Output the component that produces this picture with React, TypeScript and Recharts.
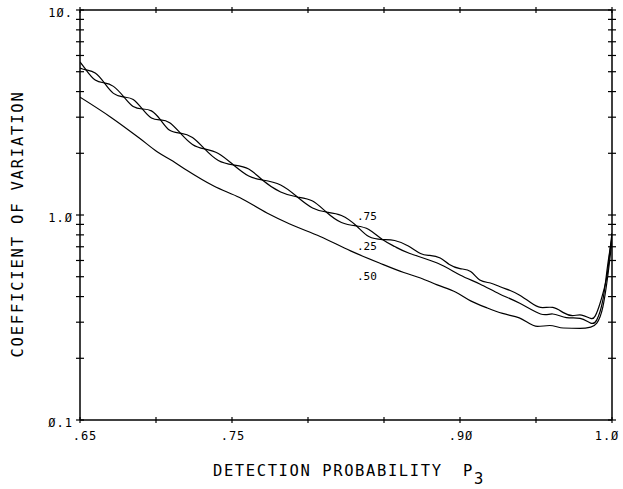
import { LineChart, Line, XAxis, YAxis, Label } from "recharts"

const FONT = "'DejaVu Sans Mono', monospace"

// x: detection probability P3
const X_TICKS = [0.65, 0.7, 0.75, 0.8, 0.85, 0.9, 0.95, 1.0]
const X_TICK_LABELS: Record<string, string> = { "0.65": ".65", "0.75": ".75", "0.9": ".9Ø", "1": "1.Ø" }

// y: coefficient of variation (log)
const Y_TICKS = [0.1, 0.2, 0.3, 0.4, 0.5, 0.6, 0.7, 0.8, 0.9, 1, 2, 3, 4, 5, 6, 7, 8, 9, 10]
const Y_TICK_LABELS: Record<string, string> = { "0.1": "Ø.1", "1": "1.Ø", "10": "1Ø." }

const SERIES_NAMES = [".75", ".25", ".50"]

const P3_75 = [
  0.65, 0.654, 0.66, 0.666, 0.672, 0.679, 0.685, 0.691, 0.697, 0.703, 0.709, 0.716, 0.724,
  0.732, 0.741, 0.751, 0.761, 0.77, 0.782, 0.793, 0.803, 0.812, 0.822, 0.832, 0.84, 0.849,
  0.857, 0.866, 0.874, 0.88, 0.887, 0.893, 0.9, 0.907, 0.913, 0.92, 0.926, 0.933, 0.939,
  0.946, 0.953, 0.961, 0.968, 0.974, 0.98, 0.986, 0.989, 0.992, 0.995, 0.997, 0.9987, 1.0,
]
const CV_75 = [
  5.21, 5.1, 4.93, 4.41, 3.92, 3.76, 3.66, 3.29, 2.97, 2.91, 2.82, 2.51, 2.21,
  2.1, 1.997, 1.754, 1.549, 1.482, 1.401, 1.224, 1.082, 1.034, 0.995, 0.884, 0.785, 0.759,
  0.751, 0.706, 0.649, 0.635, 0.617, 0.574, 0.548, 0.53, 0.482, 0.466, 0.448, 0.428, 0.407,
  0.376, 0.354, 0.354, 0.334, 0.323, 0.325, 0.313, 0.322, 0.368, 0.441, 0.521, 0.675, 0.817,
]

const P3_25 = [
  0.65, 0.654, 0.66, 0.666, 0.672, 0.679, 0.685, 0.691, 0.697, 0.703, 0.709, 0.716, 0.724,
  0.732, 0.741, 0.751, 0.761, 0.77, 0.782, 0.793, 0.803, 0.812, 0.822, 0.832, 0.84, 0.849,
  0.857, 0.867, 0.885, 0.9, 0.913, 0.926, 0.939, 0.953, 0.961, 0.97, 0.979, 0.986, 0.99,
  0.994, 0.997, 1.0,
]
const CV_25 = [
  5.58, 5.1, 4.55, 4.41, 4.24, 3.76, 3.38, 3.29, 3.22, 2.91, 2.59, 2.51, 2.39,
  2.1, 1.844, 1.754, 1.677, 1.482, 1.294, 1.224, 1.171, 1.034, 0.919, 0.884, 0.85, 0.759,
  0.702, 0.649, 0.583, 0.51, 0.461, 0.412, 0.372, 0.329, 0.329, 0.316, 0.313, 0.297, 0.308,
  0.385, 0.558, 0.781,
]

const P3_50 = [
  0.65, 0.67, 0.689, 0.701, 0.711, 0.72, 0.738, 0.755, 0.773, 0.788, 0.808, 0.828, 0.847,
  0.863, 0.874, 0.885, 0.897, 0.907, 0.918, 0.928, 0.939, 0.951, 0.959, 0.968, 0.979, 0.986,
  0.99, 0.994, 0.997, 1.0,
]
const CV_50 = [
  3.76, 3.01, 2.375, 2.03, 1.834, 1.658, 1.385, 1.217, 1.023, 0.904, 0.786, 0.668, 0.583,
  0.524, 0.493, 0.456, 0.421, 0.381, 0.352, 0.331, 0.315, 0.286, 0.289, 0.281, 0.28, 0.284,
  0.297, 0.356, 0.49, 0.755,
]

const zip = (xs: number[], ys: number[]) => xs.map((p, i) => ({ p, cv: ys[i] }))
const data75 = zip(P3_75, CV_75)
const data25 = zip(P3_25, CV_25)
const data50 = zip(P3_50, CV_50)

const axisStyle = { stroke: "#000", strokeWidth: 1.5 }

const LeftTick = (props: any) => {
  const { x, y, payload } = props
  const label = Y_TICK_LABELS[String(payload.value)]
  return (
    <g>
      <line x1={x - 4} x2={x + 4} y1={y} y2={y} stroke="#000" strokeWidth={1.2} />
      {label && (
        <text x={x - 7} y={y + 7} textAnchor="end" fontFamily={FONT} fontSize={12} style={{ letterSpacing: 1 }} fill="#000">
          {label}
        </text>
      )}
    </g>
  )
}

const RightTick = (props: any) => {
  const { x, y } = props
  return <line x1={x - 4} x2={x + 4} y1={y} y2={y} stroke="#000" strokeWidth={1.2} />
}

const BottomTick = (props: any) => {
  const { x, y, payload, index } = props
  const label = X_TICK_LABELS[String(payload.value)]
  const dx = index === 0 ? 5 : payload.value === 1 ? -5 : 1
  return (
    <g>
      <line x1={x} x2={x} y1={y - 3} y2={y + 3} stroke="#000" strokeWidth={1.2} />
      {label && (
        <text x={x + dx} y={y + 20} textAnchor="middle" fontFamily={FONT} fontSize={12} style={{ letterSpacing: 1 }} fill="#000">
          {label}
        </text>
      )}
    </g>
  )
}

const TopTick = (props: any) => {
  const { x, y } = props
  return <line x1={x} x2={x} y1={y - 3} y2={y + 3} stroke="#000" strokeWidth={1.2} />
}

const XTitle = () => (
  <text x={213} y={476} fontFamily={FONT} fontSize={15.5} style={{ letterSpacing: 1.6 }} fill="#000">
    DETECTION PROBABILITY
    <tspan x={463}>P</tspan>
    <tspan dy={8}>3</tspan>
  </text>
)

const YTitle = () => (
  <text
    x={23}
    y={224}
    transform="rotate(-90 23 224)"
    textAnchor="middle"
    fontFamily={FONT}
    fontSize={15.5}
    style={{ letterSpacing: 1.8 }}
    fill="#000"
  >
    COEFFICIENT OF VARIATION
  </text>
)

const SeriesLabels = () => (
  <g fontFamily={FONT} fontSize={11} fill="#000">
    <text x={357} y={220}>{SERIES_NAMES[0]}</text>
    <text x={357} y={250}>{SERIES_NAMES[1]}</text>
    <text x={357} y={280}>{SERIES_NAMES[2]}</text>
  </g>
)

export default function App() {
  return (
    <div style={{ position: "absolute", left: 0, top: 0, width: 623, height: 489, background: "#fff" }}>
      <LineChart width={623} height={489} margin={{ top: 0, right: 0, bottom: 0, left: 0 }}>
        <XAxis
          xAxisId="b"
          type="number"
          dataKey="p"
          domain={[0.65, 1]}
          ticks={X_TICKS}
          allowDataOverflow
          height={69}
          tickSize={0}
          tickMargin={0}
          tickLine={false}
          tick={BottomTick}
          axisLine={axisStyle}
          interval={0}
        >
          <Label content={XTitle} />
        </XAxis>
        <XAxis
          xAxisId="t"
          orientation="top"
          type="number"
          dataKey="p"
          domain={[0.65, 1]}
          ticks={X_TICKS}
          allowDataOverflow
          height={10}
          tickSize={0}
          tickMargin={0}
          tickLine={false}
          tick={TopTick}
          axisLine={axisStyle}
          interval={0}
        />
        <YAxis
          yAxisId="l"
          type="number"
          scale="log"
          domain={[0.1, 10]}
          ticks={Y_TICKS}
          allowDataOverflow
          width={80}
          tickSize={0}
          tickMargin={0}
          tickLine={false}
          tick={LeftTick}
          axisLine={axisStyle}
          interval={0}
        >
          <Label content={YTitle} />
        </YAxis>
        <YAxis
          yAxisId="r"
          orientation="right"
          type="number"
          scale="log"
          domain={[0.1, 10]}
          ticks={Y_TICKS}
          allowDataOverflow
          width={11}
          tickSize={0}
          tickMargin={0}
          tickLine={false}
          tick={RightTick}
          axisLine={axisStyle}
          interval={0}
        >
          <Label content={SeriesLabels} />
        </YAxis>
        <Line xAxisId="b" yAxisId="l" data={data75} dataKey="cv" name={SERIES_NAMES[0]} type="natural" stroke="#000" strokeWidth={1.2} dot={false} isAnimationActive={false} />
        <Line xAxisId="b" yAxisId="l" data={data25} dataKey="cv" name={SERIES_NAMES[1]} type="natural" stroke="#000" strokeWidth={1.2} dot={false} isAnimationActive={false} />
        <Line xAxisId="b" yAxisId="l" data={data50} dataKey="cv" name={SERIES_NAMES[2]} type="monotone" stroke="#000" strokeWidth={1.2} dot={false} isAnimationActive={false} />
      </LineChart>
    </div>
  )
}
